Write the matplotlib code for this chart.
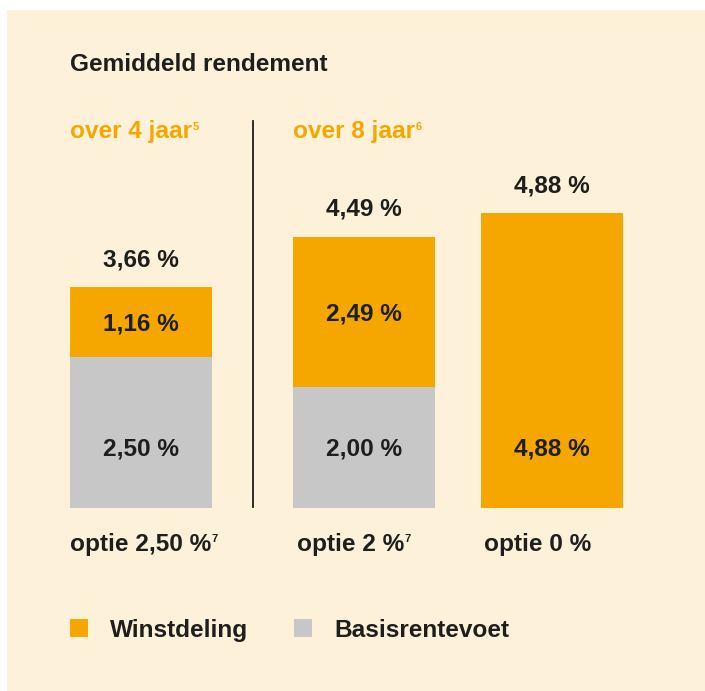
import matplotlib
matplotlib.use("Agg")
import matplotlib.pyplot as plt
from matplotlib.patches import Rectangle

# ---- data ----
categories = ["optie 2,50 %", "optie 2 %", "optie 0 %"]
cat_sup = ["7", "7", ""]
basis = [2.50, 2.00, 0.00]
winst = [1.16, 2.49, 4.88]
totals = [3.66, 4.49, 4.88]
groups = ["over 4 jaar", "over 8 jaar"]
group_sup = ["5", "6"]
legend_labels = ["Winstdeling", "Basisrentevoet"]
title = "Gemiddeld rendement"

# ---- style ----
ORANGE = "#F5A700"
GRAY = "#C6C7C6"
CREAM = "#FDF2D9"
DARK = "#1E1E1E"
FONT = "Liberation Sans"
FS = 17.6

W, H = 705, 691
BASE = 507.7      # pixel row of bar base (from top)
SCALE = 60.3      # pixels per unit

fig = plt.figure(figsize=(W / 100, H / 100), dpi=100)
fig.patch.set_facecolor("white")
bg = fig.add_axes([7 / W, 0, 1 - 7 / W, 1 - 10 / H])
bg.set_facecolor(CREAM)
bg.set_xticks([]); bg.set_yticks([])
for sp in bg.spines.values():
    sp.set_visible(False)

ax = fig.add_axes([0, 0, 1, 1])
ax.set_xlim(0, W)
ax.set_ylim((BASE - H) / SCALE, BASE / SCALE)
ax.axis("off")
ax.patch.set_alpha(0)


def py(p):  # pixel-from-top -> data y
    return (BASE - p) / SCALE


centers = [141, 364, 552]
bw = 142
ax.bar(centers, basis, width=bw, color=GRAY, zorder=2)
ax.bar(centers, winst, width=bw, bottom=basis, color=ORANGE, zorder=2)

pt = 72 / 100  # px -> points
CAPH = 8.4     # half cap height in px

for i, c in enumerate(centers):
    ax.annotate(f"{totals[i]:.2f} %".replace(".", ","), (c, totals[i]),
                xytext=(0, 21 * pt), textcoords="offset points",
                ha="center", va="baseline", fontsize=FS, fontweight="bold",
                family=FONT, color=DARK)
    if basis[i] > 0:
        ax.annotate(f"{winst[i]:.2f} %".replace(".", ","),
                    (c, basis[i] + winst[i] / 2),
                    xytext=(0, -CAPH * pt), textcoords="offset points",
                    ha="center", va="baseline", fontsize=FS, fontweight="bold",
                    family=FONT, color=DARK)
        low = basis[i]
    else:
        low = winst[i]
    ax.annotate(f"{low:.2f} %".replace(".", ","), (c, 1.0),
                xytext=(0, -CAPH * pt), textcoords="offset points",
                ha="center", va="baseline", fontsize=FS, fontweight="bold",
                family=FONT, color=DARK)

# separator line
ax.plot([253, 253], [py(121), py(507)], color=DARK, lw=1.3, zorder=3)

fig.canvas.draw()
renderer = fig.canvas.get_renderer()


def text_with_sup(x, ybase_px, s, sup, color):
    t = ax.text(x, py(ybase_px), s, ha="left", va="baseline", fontsize=FS,
                fontweight="bold", family=FONT, color=color)
    if sup:
        bb = t.get_window_extent(renderer=renderer)
        xr = ax.transData.inverted().transform((bb.x1, 0))[0]
        ax.text(xr + 0.5, py(ybase_px - 8.5), sup, ha="left", va="baseline",
                fontsize=8, fontweight="bold", family=FONT, color=color)


ax.text(70, py(71), title, ha="left", va="baseline", fontsize=FS,
        fontweight="bold", family=FONT, color=DARK)

for x, g, s in zip([70, 293], groups, group_sup):
    text_with_sup(x, 138, g, s, ORANGE)

for x, cat, s in zip([70, 297, 484], categories, cat_sup):
    text_with_sup(x, 551, cat, s, DARK)

# legend
for x, col, lab, tx in zip([70, 294], [ORANGE, GRAY], legend_labels, [110, 334]):
    ax.add_patch(Rectangle((x, py(637)), 18, 18 / SCALE, facecolor=col,
                           edgecolor="none"))
    ax.text(tx, py(637), lab, ha="left", va="baseline", fontsize=FS,
            fontweight="bold", family=FONT, color=DARK)

fig.savefig("out.png", dpi=100, facecolor=fig.get_facecolor())
